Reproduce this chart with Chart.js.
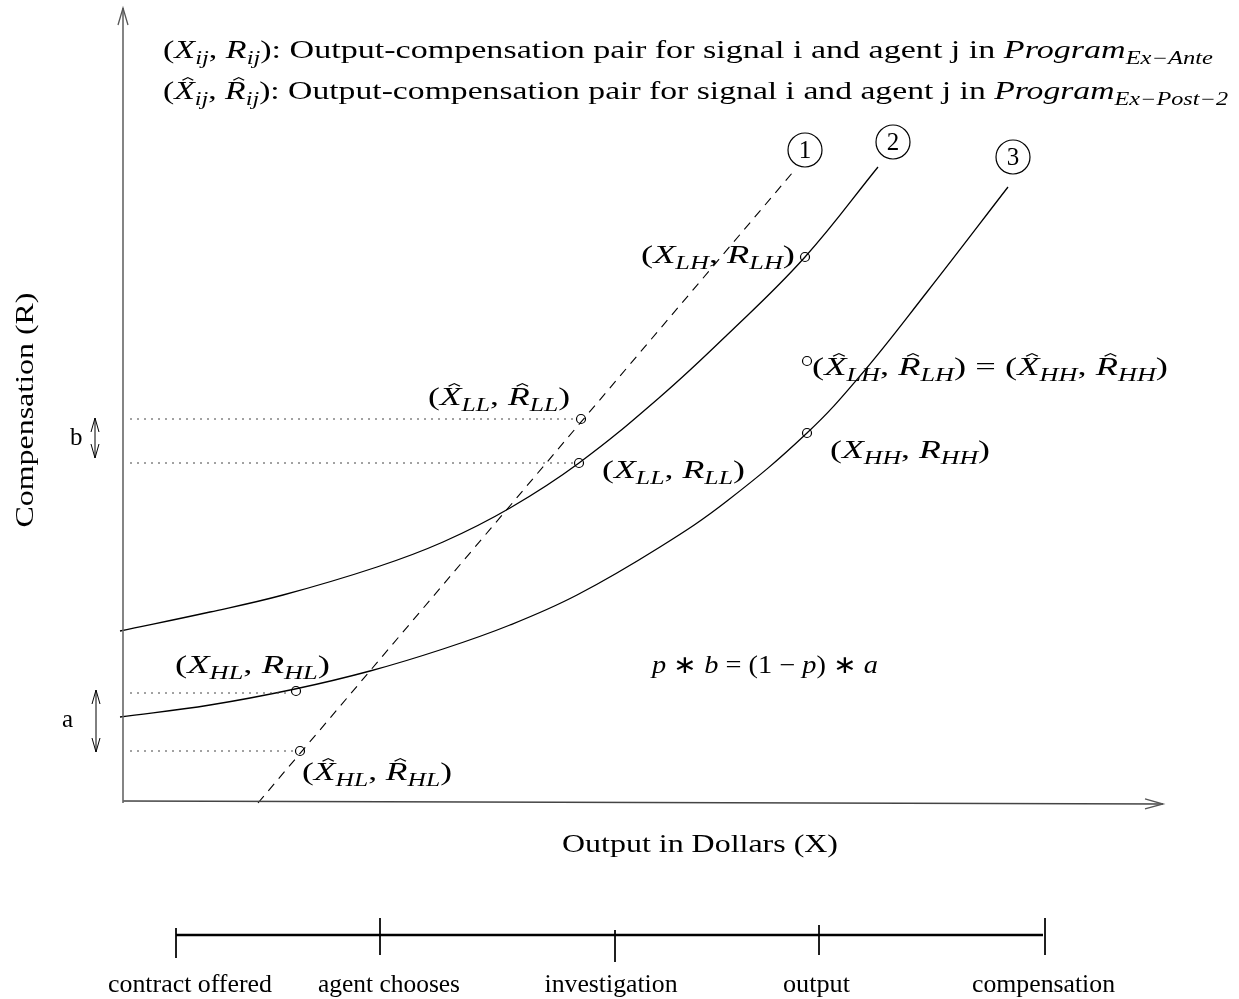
<!DOCTYPE html>
<html>
<head>
<meta charset="utf-8">
<script src="https://cdn.jsdelivr.net/npm/chart.js@4.4.0/dist/chart.umd.min.js"></script>
<style>
  body { margin: 0; background: #fff; }
  #wrap { width: 1239px; height: 999px; }
</style>
</head>
<body>
<div id="wrap"><canvas id="diagram" width="1239" height="999"></canvas></div>
<script>
// units: x = output, y = compensation (origin at the axes corner)
var curve2X = [-0.3, 8.7, 16.0, 25.4, 32.0, 38.7, 45.6, 53.7, 60.4, 68.2, 75.5];
var curve2Y = [17.0, 18.9, 20.6, 23.4, 25.9, 29.3, 33.8, 40.4, 46.6, 54.4, 63.4];
var curve3X = [-0.3, 8.7, 17.2, 24.7, 32.0, 38.7, 45.4, 53.7, 60.4, 68.4, 73.7, 80.4, 88.5];
var curve3Y = [8.4, 9.6, 11.2, 13.0, 15.2, 17.6, 20.6, 25.4, 30.0, 36.8, 42.5, 50.9, 61.4];
var line1X = [13.5, 67.0];
var line1Y = [-0.2, 62.9];

// output-compensation pairs (circles)
var pairX = [68.2, 68.4, 68.4, 45.8, 45.6, 17.3, 17.7];
var pairY = [54.4, 44.0, 36.8, 38.2, 33.8, 11.0, 5.0];

// dotted guides from the R axis
var guideY = [38.2, 33.8, 10.8, 5.0];
var guideEndX = [45.3, 45.1, 16.8, 17.2];

// curve numbers
var curveIds = ['1', '2', '3'];
var curveIdX = [68.2, 77.0, 89.0];
var curveIdY = [65.1, 65.9, 64.4];

// timeline
var stages = ['contract offered', 'agent chooses', 'investigation', 'output', 'compensation'];
var stageX = [5.3, 25.7, 49.2, 69.6, 92.2];
var stageTop = [-12.7, -11.7, -12.9, -12.4, -11.7];
var stageBottom = [-15.7, -15.4, -16.1, -15.4, -15.4];
var stageLabelX = [6.7, 26.6, 48.8, 69.35, 92.05];
var stageLabelW = [16.4, 14.2, 13.3, 6.7, 14.3];
var timelineY = -13.4;

function pts(xs, ys) {
  return xs.map(function (x, i) { return { x: x, y: ys[i] }; });
}

var guideData = [];
guideY.forEach(function (y, i) {
  guideData.push({ x: 0.7, y: y }, { x: guideEndX[i], y: y }, { x: guideEndX[i], y: null });
});
var tickData = [];
stageX.forEach(function (x, i) {
  tickData.push({ x: x, y: stageTop[i] }, { x: x, y: stageBottom[i] }, { x: x + 0.01, y: null });
});

var R = 'r', I = 'i', S = 's', H = 'h';
var pairLabels = [
  { parts: [['(', R], ['X', I], ['LH', S], [', ', R], ['R', I], ['LH', S], [')', R]], x: 51.8, y: 53.8, w: 15.4 },
  { parts: [['(', R], ['X', H], ['LL', S], [', ', R], ['R', H], ['LL', S], [')', R]], x: 30.5, y: 39.6, w: 14.2 },
  { parts: [['(', R], ['X', I], ['LL', S], [', ', R], ['R', I], ['LL', S], [')', R]], x: 47.9, y: 32.3, w: 14.3 },
  { parts: [['(', R], ['X', H], ['LH', S], [', ', R], ['R', H], ['LH', S], [') = (', R], ['X', H], ['HH', S], [', ', R], ['R', H], ['HH', S], [')', R]], x: 68.9, y: 42.6, w: 35.6 },
  { parts: [['(', R], ['X', I], ['HH', S], [', ', R], ['R', I], ['HH', S], [')', R]], x: 70.7, y: 34.3, w: 16.0 },
  { parts: [['(', R], ['X', I], ['HL', S], [', ', R], ['R', I], ['HL', S], [')', R]], x: 5.2, y: 12.8, w: 15.5 },
  { parts: [['(', R], ['X', H], ['HL', S], [', ', R], ['R', H], ['HL', S], [')', R]], x: 17.9, y: 2.1, w: 15.0 },
  { parts: [['p', I], [' \u2217 ', R], ['b', I], [' = (1 \u2212 ', R], ['p', I], [') \u2217 ', R], ['a', I]], x: 52.9, y: 12.8, w: 22.6 },
  { parts: [['(', R], ['X', I], ['ij', S], [', ', R], ['R', I], ['ij', S], ['): Output-compensation pair for signal i and agent j in ', R], ['Program', I], ['Ex\u2212Ante', S]], x: 4.0, y: 74.3, w: 105.0 },
  { parts: [['(', R], ['X', H], ['ij', S], [', ', R], ['R', H], ['ij', S], ['): Output-compensation pair for signal i and agent j in ', R], ['Program', I], ['Ex\u2212Post\u22122', S]], x: 4.0, y: 70.2, w: 106.5 },
  { parts: [['Output in Dollars (X)', R]], x: 43.9, y: -5.1, w: 27.6 },
  { parts: [['b', R]], x: -5.3, y: 35.6, w: 0 },
  { parts: [['a', R]], x: -6.1, y: 7.4, w: 0 }
];

function fontFor(st, size) {
  var fam = '"Liberation Serif", "Times New Roman", serif';
  if (st === R) return size + 'px ' + fam;
  if (st === S) return 'italic ' + Math.round(size * 0.7) + 'px ' + fam;
  return 'italic ' + size + 'px ' + fam;
}

function drawRich(ctx, parts, x, y, size, width, align) {
  var total = 0;
  parts.forEach(function (p) {
    ctx.font = fontFor(p[1], size);
    p.w = ctx.measureText(p[0]).width;
    total += p.w;
  });
  ctx.save();
  ctx.translate(x, y);
  if (width) ctx.scale(width / total, 1);
  var cx = align === 'center' ? -total / 2 : 0;
  ctx.fillStyle = '#000';
  ctx.strokeStyle = '#000';
  ctx.textBaseline = 'alphabetic';
  ctx.textAlign = 'left';
  parts.forEach(function (p) {
    ctx.font = fontFor(p[1], size);
    var dy = p[1] === S ? size * 0.22 : 0;
    ctx.fillText(p[0], cx, dy);
    if (p[1] === H) {
      var hx = cx + p.w / 2 + size * 0.1;
      var top = -size * 0.86;
      ctx.lineWidth = 1;
      ctx.beginPath();
      ctx.moveTo(hx - size * 0.16, top + size * 0.11);
      ctx.lineTo(hx, top);
      ctx.lineTo(hx + size * 0.16, top + size * 0.11);
      ctx.stroke();
    }
    cx += p.w;
  });
  ctx.restore();
}

function arrowHead(ctx, tx, ty, fx, fy, len, half) {
  var a = Math.atan2(ty - fy, tx - fx);
  ctx.beginPath();
  ctx.moveTo(tx - len * Math.cos(a) + half * Math.sin(a), ty - len * Math.sin(a) - half * Math.cos(a));
  ctx.lineTo(tx, ty);
  ctx.lineTo(tx - len * Math.cos(a) - half * Math.sin(a), ty - len * Math.sin(a) + half * Math.cos(a));
  ctx.stroke();
}

var decorations = {
  id: 'decorations',
  afterDatasetsDraw: function (chart) {
    var ctx = chart.ctx;
    var xs = chart.scales.x, ys = chart.scales.y;
    var X = function (v) { return xs.getPixelForValue(v); };
    var Y = function (v) { return ys.getPixelForValue(v); };

    // axis arrow heads
    ctx.save();
    ctx.strokeStyle = '#555';
    ctx.lineWidth = 1.3;
    arrowHead(ctx, X(0), Y(79.3), X(0), Y(0), 17, 5);
    arrowHead(ctx, X(104), Y(-0.3), X(0), Y(0), 18, 5);
    // a and b double arrows
    ctx.strokeStyle = '#000';
    ctx.lineWidth = 1;
    [[-2.8, 38.3, 34.3], [-2.7, 11.1, 4.9]].forEach(function (d) {
      ctx.beginPath();
      ctx.moveTo(X(d[0]), Y(d[1]));
      ctx.lineTo(X(d[0]), Y(d[2]));
      ctx.stroke();
      arrowHead(ctx, X(d[0]), Y(d[1]), X(d[0]), Y(d[2]), 14, 4);
      arrowHead(ctx, X(d[0]), Y(d[2]), X(d[0]), Y(d[1]), 14, 4);
    });
    ctx.restore();

    // curve numbers
    ctx.save();
    ctx.fillStyle = '#000';
    ctx.font = '25px "Liberation Serif", serif';
    ctx.textAlign = 'center';
    ctx.textBaseline = 'middle';
    curveIds.forEach(function (t, i) {
      ctx.fillText(t, X(curveIdX[i]), Y(curveIdY[i]) + 1);
    });
    ctx.restore();

    // math labels
    pairLabels.forEach(function (l) {
      var w = l.w ? X(l.x + l.w) - X(l.x) : 0;
      drawRich(ctx, l.parts, X(l.x), Y(l.y), 25, w, 'left');
    });

    // rotated axis title
    ctx.save();
    ctx.translate(X(-9.8), Y(39.1));
    ctx.rotate(-Math.PI / 2);
    drawRich(ctx, [['Compensation (R)', R]], 0, 8, 25, Y(27.35) - Y(50.85), 'center');
    ctx.restore();

    // timeline labels
    ctx.save();
    stages.forEach(function (s, i) {
      var w = X(stageLabelX[i] + stageLabelW[i] / 2) - X(stageLabelX[i] - stageLabelW[i] / 2);
      drawRich(ctx, [[s, R]], X(stageLabelX[i]), Y(-19.1), 25, w, 'center');
    });
    ctx.restore();
  }
};

var thin = { borderColor: '#000', borderWidth: 1.3, pointRadius: 0, fill: false, showLine: true };

new Chart('diagram', {
  type: 'scatter',
  data: {
    datasets: [
      Object.assign({ data: [{ x: 0, y: -0.2 }, { x: 0, y: 79.3 }] }, thin, { borderColor: '#666', borderWidth: 1.6 }),
      Object.assign({ data: [{ x: 0, y: 0 }, { x: 104, y: -0.3 }] }, thin, { borderColor: '#444', borderWidth: 1.4 }),
      Object.assign({ data: guideData, spanGaps: false }, thin, { borderColor: '#444', borderWidth: 1, borderDash: [2, 5] }),
      Object.assign({ data: pts(line1X, line1Y) }, thin, { borderWidth: 1.1, borderDash: [9, 7] }),
      Object.assign({ data: pts(curve2X, curve2Y), tension: 0.4 }, thin),
      Object.assign({ data: pts(curve3X, curve3Y), tension: 0.4 }, thin),
      {
        data: pts(pairX, pairY), showLine: false, pointStyle: 'circle', pointRadius: 4.5,
        pointBackgroundColor: '#fff', pointBorderColor: '#000', pointBorderWidth: 1.2
      },
      {
        data: pts(curveIdX, curveIdY), showLine: false, pointStyle: 'circle', pointRadius: 17,
        pointBackgroundColor: '#fff', pointBorderColor: '#000', pointBorderWidth: 1.2
      },
      Object.assign({ data: [{ x: stageX[0], y: timelineY }, { x: 92.0, y: timelineY }] }, thin, { borderWidth: 2.6 }),
      Object.assign({ data: tickData, spanGaps: false }, thin, { borderWidth: 1 })
    ]
  },
  options: {
    responsive: false,
    animation: false,
    events: [],
    layout: { padding: 0, autoPadding: false },
    elements: { line: { tension: 0 } },
    scales: {
      x: { type: 'linear', min: -12.3, max: 111.6, display: false },
      y: { type: 'linear', min: -19.8, max: 80.1, display: false }
    },
    plugins: { legend: { display: false }, tooltip: { enabled: false } }
  },
  plugins: [decorations]
});
</script>
</body>
</html>
